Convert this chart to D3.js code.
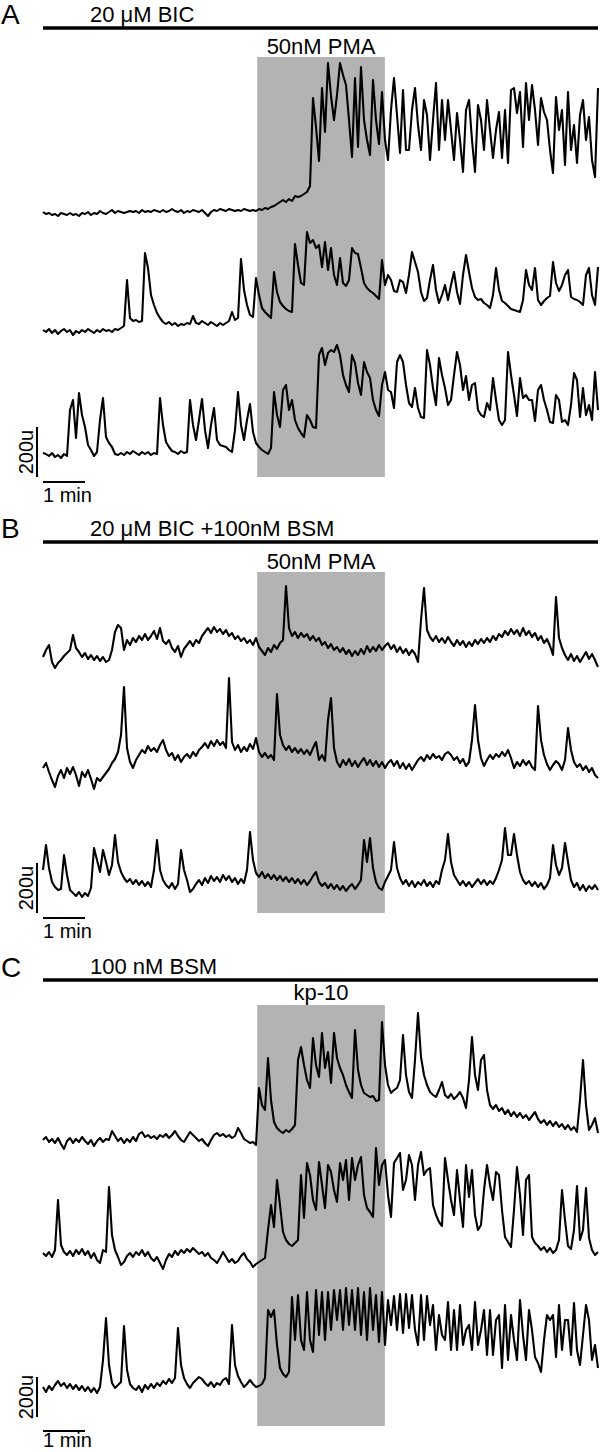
<!DOCTYPE html>
<html>
<head>
<meta charset="utf-8">
<script src="https://cdn.jsdelivr.net/npm/d3@7"></script>
<style>
  body { margin: 0; background: #fff; }
  svg { display: block; }
  text { font-family: "Liberation Sans", Arial, sans-serif; fill: #000; }
</style>
</head>
<body>
<svg id="chart" width="600" height="1452"></svg>
<script>
// one sample every 1/14 min (traces)
const dtMin = 1 / 14;
// drug pulse (grey box), minutes from start of trace
const pulseStart = 5.1;
const pulseEnd = 8.14;

const panelLetters = ["A", "B", "C"];
const bathLabels = ["20 \u03bcM BIC", "20 \u03bcM BIC +100nM BSM", "100 nM BSM"];
const pulseLabels = ["50nM PMA", "50nM PMA", "kp-10"];

// Ca signals, units u (scale bar = 200u)
const a1 = [16,8,12,4,8,0,12,8,4,12, 4,8,0,12,8,16,4,12,8,20, 12,8,16,24,12,20,16,12,16,20,
  16,20,12,24,16,20,16,24,20,16, 24,16,20,28,20,16,24,12,20,16, 24,20,16,24,12,0,16,24,20,28,
  24,20,28,24,20,24,20,28,24,20, 24,20,28,24,32,28,36,40,48,56, 64,56,68,60,80,76,80,88,96,120,
  472,356,220,512,336,612,480,384,484,612, 564,524,384,236,552,276,596,384,304,244,
  544,384,288,496,304,224,424,552,404,252, 504,264,264,424,512,364,264,464,404,224,
  384,532,264,464,304,464,344,224,412,304, 176,424,464,304,176,444,384,264,464,344,
  232,344,416,232,424,212,504,512,412,496, 276,532,384,524,424,284,472,416,384,264,
  172,476,344,424,204,496,264,364,212,404, 464,304,396,224,156,512];
const a2 = [32,24,36,20,32,16,28,36,24,32,12, 28,20,32,24,36,28,20,32,24,36, 28,32,24,36,32,40,
  48,232,80,68,72,64,68,340,280,172,132,100,80,64, 56,64,52,60,48,56,52,60,56,
  88,60,56,68,60,52,64,56,48,60, 52,60,68,104,72,80,316,192,132,92,
  84,240,172,120,104,92,80,264,184,144, 128,116,108,104,376,292,220,212,424,380,
  392,360,372,284,384,272,360,252,212,320, 220,208,232,360,340,336,280,220,200,188,
  180,168,156,312,212,252,232,188,184,232, 224,180,252,344,304,264,184,148,160,232,
  292,192,140,172,212,152,212,264,184,136, 252,332,264,200,164,152,156,140,132,120,
  172,280,192,148,140,128,116,112,108,104, 152,272,212,192,280,152,132,148,160,168,
  304,220,188,212,252,272,164,156,152,144, 132,252,280,172,132,284];
const a3 = [28,24,16,28,12,20,8,24,16, 200,240,88,268,180,132,60,40,16,32, 160,248,92,68,52,24,20,
  28,20,32,24,36,28,20,32,24,32,20,28,24, 248,140,72,52,36,32,24,36,28,32,
  240,140,80,160,244,120,48,140,208,80,60, 56,52,40,32,120,272,140,80,160,224,
  112,68,52,40,32,24,48,272,180,132, 280,300,200,240,160,128,108,92,180,160,
  132,128,420,448,380,428,440,432,460,420, 340,300,272,420,388,308,260,392,352,328,
  240,200,176,300,352,280,272,208,392,420, 392,300,228,212,288,208,172,168,440,380,
  288,220,408,340,288,220,240,340,432,380, 280,336,240,300,308,200,180,172,228,200,
  328,240,160,140,160,432,340,260,176,328, 248,260,240,240,156,280,300,240,200,152,
  148,260,240,152,160,140,220,348,320,172, 288,180,220,160,352,200];

const b1 = [44,72,92,24,0,20,32,48,60,72, 132,80,64,44,60,36,52,32,48,28, 44,24,32,72,144,172,160,72,112,92,
  120,104,128,112,136,112,128,148,116,160, 108,96,112,80,64,88,44,76,92,108,
  88,112,100,128,144,160,140,164,144,156, 136,152,128,140,116,128,108,120,100,112,
  92,120,84,68,52,80,64,92,76,100, 112,328,160,128,144,120,140,124,136,112,
  128,108,120,92,104,80,96,72,84,64, 80,56,72,48,68,52,76,56,88,64,
  84,68,92,72,88,100,76,92,64,84, 60,76,52,72,56,24,192,320,152,124,
  108,128,104,120,100,124,104,88,112,92, 108,84,104,88,112,96,116,100,120,104,
  128,112,136,124,148,132,156,136,152,128, 160,132,148,124,140,112,128,100,116,88,
  52,284,120,80,52,32,56,28,48,24, 44,64,36,56,32,4];
const b2 = [96,116,80,48,20,64,88,56,96,72, 100,68,24,80,60,88,52,12,56,44, 60,76,92,116,132,160,228,420,176,120,
  96,128,148,168,156,184,164,176,160,188, 208,168,144,156,128,148,120,140,152,136,
  160,144,168,180,196,176,204,184,208,188, 200,176,456,200,168,188,160,180,164,192,
  172,216,160,140,156,136,148,128,392,228, 188,168,184,160,176,156,172,152,168,148,
  176,200,128,148,124,288,376,176,120,100, 128,108,132,104,124,100,120,136,108,128,
  104,124,100,120,96,116,128,104,124,96, 116,92,112,88,108,128,140,124,148,132,
  152,136,144,128,152,160,148,128,140,116, 132,104,120,208,348,208,136,104,128,148,
  132,152,140,160,144,168,136,96,120,104, 128,108,124,100,88,344,208,148,112,88,
  108,124,112,88,128,256,168,120,100,112, 88,104,80,96,68,56];
const b3 = [120,220,128,72,52,40,44,180,100,40, 28,16,32,12,28,16,48,208,160,112, 200,152,100,140,260,152,112,88,72,84,
  64,80,60,76,56,72,52,120,240,120, 80,60,48,68,44,64,200,120,80,32,
  44,64,80,60,88,68,96,76,92,72, 100,80,96,72,88,64,84,68,120,272,
  160,108,92,112,88,104,84,100,80,96, 76,92,72,88,68,84,64,80,60,76,
  96,112,72,56,68,48,64,44,60,40, 56,36,52,64,44,60,80,240,152,248,
  128,72,48,40,72,96,120,232,128,88, 64,80,56,76,52,72,60,80,56,72,
  52,76,64,120,160,264,152,100,80,60, 76,56,72,52,68,84,64,80,60,76,
  64,88,120,160,288,180,180,264,180,112, 80,64,76,56,72,52,68,44,60,88,
  220,140,100,128,228,152,80,52,68,40, 60,36,56,44,60,40];

const c1 = [30,45,20,35,15,40,10,-15,25,40, 15,35,20,45,25,10,30,0,25,40, 20,35,30,75,50,25,40,15,35,20,
  45,25,60,70,45,55,40,50,35,55, 45,60,40,55,75,50,30,20,45,70, 55,40,25,35,15,0,30,55,65,50,
  60,45,55,40,50,90,65,35,25,15, 20,5,290,205,180,440,230,120,90,75,
  65,80,70,85,105,430,495,405,330,290, 540,405,345,565,390,470,315,565,440,390,
  355,305,270,240,580,380,305,265,255,245, 250,225,230,620,405,305,265,280,290,330,
  555,355,270,240,430,665,445,355,305,270, 255,245,280,320,255,240,260,235,250,270,
  240,190,330,545,355,280,430,455,280,205, 185,205,175,190,160,180,150,170,145,165,
  140,155,130,150,170,135,115,130,105,125, 100,120,95,110,85,105,80,95,70,230,
  430,205,80,105,140,65];
const c2 = [85,70,90,65,100,350,125,90,75,95, 70,100,80,105,75,95,60,85,50,35, 100,90,415,175,100,65,25,40,70,85,
  65,90,75,100,70,90,60,45,65,35, 5,50,80,65,95,75,100,85,105,90, 110,95,80,90,70,85,60,50,35,60,
  90,65,40,55,35,45,70,85,55,40, 15,30,40,50,60,200,325,215,450,325,
  190,150,130,120,135,150,475,260,535,475, 350,300,540,425,310,525,490,400,340,535,
  450,550,350,560,450,525,565,375,310,290, 265,610,425,525,550,375,265,535,560,585,
  400,450,575,525,350,525,590,475,500,510, 325,275,240,220,560,450,350,275,500,350,
  215,525,365,500,275,200,225,400,525,425, 350,490,475,300,165,140,115,300,515,375,
  175,450,475,165,135,120,100,115,90,110, 85,100,150,400,250,120,105,200,420,150,
  200,410,160,100,75,90];
const c3 = [40,15,45,25,50,70,45,60,35,55, 30,50,25,45,20,40,15,35,10,40, 175,385,150,60,35,50,65,345,125,55,
  35,25,45,15,50,30,55,35,60,45, 70,55,80,60,85,335,150,85,55,35, 60,75,90,80,60,45,65,40,60,50,
  75,85,55,350,150,95,65,40,55,75, 55,40,45,55,85,425,390,425,250,135,
  105,90,115,490,275,500,275,225,515,275, 215,525,300,515,275,515,325,525,375,525,
  325,535,350,525,325,535,300,515,275,535, 325,500,265,515,250,475,350,495,325,505,
  310,505,335,500,325,250,500,275,495,350, 450,225,400,300,275,465,225,425,225,450,
  250,325,350,225,465,250,325,425,200,425, 200,375,400,135,450,175,400,275,175,475,
  300,175,425,325,190,160,115,275,400,375, 400,190,450,225,375,375,200,460,225,150,
  300,450,375,175,250,135];

// layout (pixels)
const panels = [
  { traces: [a1, a2, a3], base: [216, 338, 460], pxPerU: 0.25,
    letterY: 24, barY: 28, pulseY: 54, boxTop: 57, boxBottom: 477,
    scaleBottom: 477, minY: 482, minTextY: 502 },
  { traces: [b1, b2, b3], base: [668, 792, 900], pxPerU: 0.25,
    letterY: 538, barY: 542, pulseY: 569, boxTop: 572, boxBottom: 913,
    scaleBottom: 913, minY: 918, minTextY: 938 },
  { traces: [c1, c2, c3], base: [1146, 1270, 1395], pxPerU: 0.2,
    letterY: 977, barY: 980, pulseY: 1000, boxTop: 1005, boxBottom: 1426,
    scaleBottom: 1417, minY: 1431, minTextY: 1447 }
];

const svg = d3.select("#chart");
const nSamples = a1.length;
const x = d3.scaleLinear().domain([0, (nSamples - 1) * dtMin]).range([43, 598]);

panels.forEach((p, k) => {
  const g = svg.append("g");

  g.append("rect")
    .attr("x", x(pulseStart)).attr("y", p.boxTop)
    .attr("width", x(pulseEnd) - x(pulseStart))
    .attr("height", p.boxBottom - p.boxTop)
    .attr("fill", "#b3b3b3");

  g.append("text").attr("x", 1).attr("y", p.letterY)
    .style("font-size", "28px").text(panelLetters[k]);

  g.append("line")
    .attr("x1", x(0)).attr("x2", x(x.domain()[1]))
    .attr("y1", p.barY).attr("y2", p.barY)
    .attr("stroke", "#000").attr("stroke-width", 3.5);

  g.append("text").attr("x", 90).attr("y", p.barY - 6)
    .style("font-size", "22px").text(bathLabels[k]);

  g.append("text")
    .attr("x", (x(pulseStart) + x(pulseEnd)) / 2).attr("y", p.pulseY)
    .attr("text-anchor", "middle")
    .style("font-size", "22px").text(pulseLabels[k]);

  p.traces.forEach((tr, j) => {
    const y = d3.scaleLinear().domain([0, 200])
      .range([p.base[j], p.base[j] - 200 * p.pxPerU]);
    const line = d3.line()
      .x((d, i) => x(i * dtMin))
      .y(d => y(d));
    g.append("path")
      .datum(tr)
      .attr("d", line)
      .attr("fill", "none")
      .attr("stroke", "#000")
      .attr("stroke-width", 2.1)
      .attr("stroke-linejoin", "round");
  });

  // scale bars: 200u and 1 min
  const yBar = d3.scaleLinear().domain([0, 200])
    .range([p.scaleBottom, p.scaleBottom - 200 * p.pxPerU]);
  g.append("line")
    .attr("x1", 37).attr("x2", 37)
    .attr("y1", yBar(0)).attr("y2", yBar(200))
    .attr("stroke", "#000").attr("stroke-width", 2);
  g.append("text")
    .attr("transform", `translate(33,${(yBar(0) + yBar(200)) / 2}) rotate(-90)`)
    .attr("text-anchor", "middle")
    .style("font-size", "20px").text("200u");
  g.append("line")
    .attr("x1", x(0)).attr("x2", x(1))
    .attr("y1", p.minY).attr("y2", p.minY)
    .attr("stroke", "#000").attr("stroke-width", 2);
  g.append("text").attr("x", x(0)).attr("y", p.minTextY)
    .style("font-size", "20px").text("1 min");
});
</script>
</body>
</html>
